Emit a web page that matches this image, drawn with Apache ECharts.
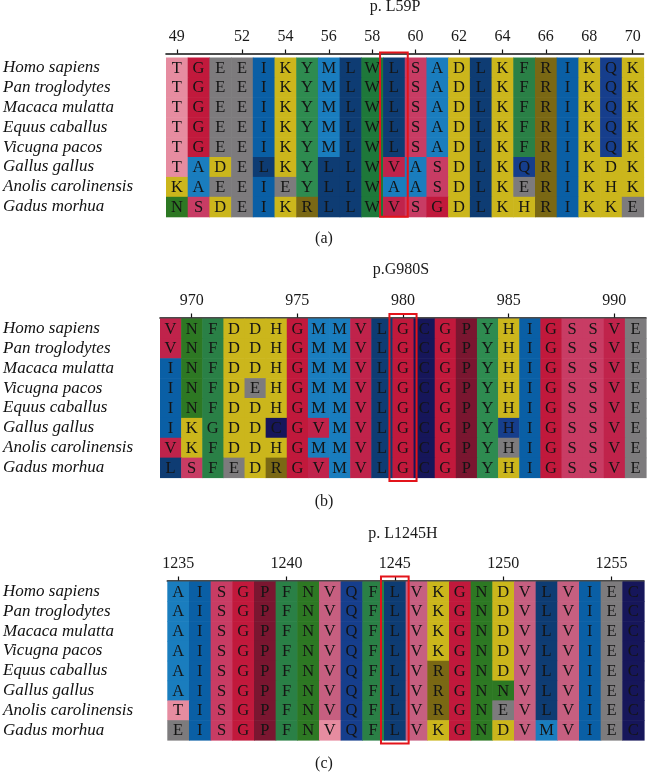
<!DOCTYPE html>
<html>
<head>
<meta charset="utf-8">
<script src="https://cdn.jsdelivr.net/npm/echarts@6/dist/echarts.min.js"></script>
<style>html,body{margin:0;padding:0;background:#fff}#chart{width:648px;height:773px}</style>
</head>
<body>
<div id="chart"></div>
<script>
// ---------- DATA ----------
const speciesA = ['Homo sapiens','Pan troglodytes','Macaca mulatta','Equus caballus','Vicugna pacos','Gallus gallus','Anolis carolinensis','Gadus morhua'];
const speciesB = ['Homo sapiens','Pan troglodytes','Macaca mulatta','Vicugna pacos','Equus caballus','Gallus gallus','Anolis carolinensis','Gadus morhua'];
const speciesC = ['Homo sapiens','Pan troglodytes','Macaca mulatta','Vicugna pacos','Equus caballus','Gallus gallus','Anolis carolinensis','Gadus morhua'];

const positionsA = [49,50,51,52,53,54,55,56,57,58,59,60,61,62,63,64,65,66,67,68,69,70];
const positionsB = [969,970,971,972,973,974,975,976,977,978,979,980,981,982,983,984,985,986,987,988,989,990,991];
const positionsC = [1235,1236,1237,1238,1239,1240,1241,1242,1243,1244,1245,1246,1247,1248,1249,1250,1251,1252,1253,1254,1255,1256];

const ticksA = [49,52,54,56,58,60,62,64,66,68,70];
const ticksB = [970,975,980,985,990];
const ticksC = [1235,1240,1245,1250,1255];

const seqA = [
  'TGEEIKYMLWLSADLKFRIKQK',
  'TGEEIKYMLWLSADLKFRIKQK',
  'TGEEIKYMLWLSADLKFRIKQK',
  'TGEEIKYMLWLSADLKFRIKQK',
  'TGEEIKYMLWLSADLKFRIKQK',
  'TADELKYLLWVASDLKQRIKDK',
  'KAEEIEYLLWAASDLKERIKHK',
  'NSDEIKRLLWVSGDLKHRIKKE'
];
const seqB = [
  'VNFDDHGMMVLGCGPYHIGSSVE',
  'VNFDDHGMMVLGCGPYHIGSSVE',
  'INFDDHGMMVLGCGPYHIGSSVE',
  'INFDEHGMMVLGCGPYHIGSSVE',
  'INFDDHGMMVLGCGPYHIGSSVE',
  'IKGDDCGVMVLGCGPYHIGSSVE',
  'VKFDDHGMMVLGCGPYHIGSSVE',
  'LSFEDRGVMVLGCGPYHIGSSVE'
];
const seqC = [
  'AISGPFNVQFLVKGNDVLVIEC',
  'AISGPFNVQFLVKGNDVLVIEC',
  'AISGPFNVQFLVKGNDVLVIEC',
  'AISGPFNVQFLVKGNDVLVIEC',
  'AISGPFNVQFLVRGNDVLVIEC',
  'AISGPFNVQFLVRGNNVLVIEC',
  'TISGPFNVQFLVRGNEVLVIEC',
  'EISGPFNVQFLVKGNDVMVIEC'
];

const mutationA = 59;
const mutationB = 980;
const mutationC = 1245;

const titles = ['p. L59P', 'p.G980S', 'p. L1245H'];
const captions = ['(a)', '(b)', '(c)'];

// ---------- STYLES ----------
const letterColors = {
  T:'#E68CA0', G:'#C1193C', E:'#7D7B7D', I:'#0A5FA5', K:'#CBB61C', D:'#CBB61C', H:'#CBB61C',
  Y:'#2E8B50', M:'#1A7DBE', A:'#1A7DBE', L:'#0E3C73', W:'#1E783A', S:'#C83C64', F:'#2A8046',
  R:'#7A6814', Q:'#163E8C', N:'#2D7823', V:'#C0234B', C:'#16165A', P:'#7A1630'
};
const panelLetterColors = [{}, {}, { V:'#C65F80' }];
// per-cell colour exceptions: panel, row, column position -> colour
const cellColors = {
  '1:5:971':'#2A8046', '1:5:985':'#163E8C', '1:6:985':'#7D7B7D',
  '2:7:1242':'#E68CA0'
};

const panels = [
  { species: speciesA, positions: positionsA, ticks: ticksA, seq: seqA, mut: mutationA,
    grid: {left:166, top:57.5, width:477.5, height:159.2}, axisOffset:4, boxTop:5, boxBottom:0 },
  { species: speciesB, positions: positionsB, ticks: ticksB, seq: seqB, mut: mutationB,
    grid: {left:160, top:318.5, width:486, height:159}, axisOffset:1, boxTop:4.5, boxBottom:3.5 },
  { species: speciesC, positions: positionsC, ticks: ticksC, seq: seqC, mut: mutationC,
    grid: {left:167.3, top:581.5, width:476.7, height:158.5}, axisOffset:1, boxTop:5, boxBottom:3.5 }
];
const titleTops = [-1, 262, 526];
const titleCenters = [395, 401, 403];
const captionTops = [231, 494, 756];

const SERIF = '"Liberation Serif", "DejaVu Serif", serif';

const chart = echarts.init(document.getElementById('chart'), null, {renderer:'canvas'});

const series = [];
panels.forEach((p, pi) => {
  const data = [];
  p.seq.forEach((row, ri) => {
    row.split('').forEach((ch, ci) => {
      const key = pi + ':' + ri + ':' + p.positions[ci];
      const color = cellColors[key] || panelLetterColors[pi][ch] || letterColors[ch] || '#ccc';
      data.push({ value: [ci, ri, ch, color] });
    });
  });
  series.push({
    type: 'custom', xAxisIndex: pi, yAxisIndex: pi, data: data, z: 2,
    renderItem: function (params, api) {
      const c = api.coord([api.value(0), api.value(1)]);
      const s = api.size([1, 1]);
      const d = data[params.dataIndex].value;
      return {
        type: 'group',
        children: [
          { type: 'rect', shape: { x: c[0] - s[0] / 2, y: c[1] - s[1] / 2, width: s[0] + 0.6, height: s[1] + 0.6 },
            style: { fill: d[3] } },
          { type: 'text', z2: 10, style: { text: d[2], x: c[0], y: c[1] + 0.8, align: 'center', verticalAlign: 'middle',
            fontFamily: SERIF, fontSize: 16.5, fill: '#141414' } }
        ]
      };
    }
  });
  const mi = p.positions.indexOf(p.mut);
  series.push({
    type: 'custom', xAxisIndex: pi, yAxisIndex: pi, data: [[mi]], z: 5,
    renderItem: function (params, api) {
      const top = api.coord([mi, 0]);
      const bot = api.coord([mi, p.species.length - 1]);
      const s = api.size([1, 1]);
      const x0 = top[0] - s[0] / 2 - 3;
      const y0 = top[1] - s[1] / 2 - p.boxTop;
      const y1 = bot[1] + s[1] / 2 + p.boxBottom;
      return { type: 'rect', shape: { x: x0, y: y0, width: s[0] + 6, height: y1 - y0 },
        style: { fill: 'none', stroke: '#E3141B', lineWidth: 2 } };
    }
  });
});

const option = {
  animation: false,
  backgroundColor: '#ffffff',
  title: titles.map((t, i) => ({
    text: t, left: titleCenters[i], top: titleTops[i], textAlign: 'center', padding: 0,
    textStyle: { fontFamily: SERIF, fontSize: 16, fontWeight: 'normal', color: '#1a1a1a' }
  })).concat(captions.map((t, i) => ({
    text: t, left: 324, top: captionTops[i], textAlign: 'center', padding: 0,
    textStyle: { fontFamily: SERIF, fontSize: 16, fontWeight: 'normal', color: '#1a1a1a' }
  }))),
  grid: panels.map(p => Object.assign({ containLabel: false }, p.grid)),
  xAxis: panels.map((p, i) => ({
    gridIndex: i, type: 'category', position: 'top', offset: p.axisOffset,
    data: p.positions.map(String),
    axisLine: { show: true, lineStyle: { color: '#111', width: 1.6 } },
    axisTick: { show: true, alignWithLabel: true, length: 4, inside: false,
      interval: (idx, val) => p.ticks.indexOf(+val) >= 0, lineStyle: { color: '#111', width: 1.2 } },
    axisLabel: { interval: (idx, val) => p.ticks.indexOf(+val) >= 0, margin: 9,
      fontFamily: SERIF, fontSize: 16, color: '#1a1a1a' },
    splitLine: { show: false }
  })),
  yAxis: panels.map((p, i) => ({
    gridIndex: i, type: 'category', inverse: true, data: p.species,
    axisLine: { show: false }, axisTick: { show: false }, splitLine: { show: false },
    axisLabel: { interval: 0, align: 'left', margin: p.grid.left - 3, fontFamily: SERIF, fontStyle: 'italic',
      fontSize: 17, color: '#111' }
  })),
  series: series
};
chart.setOption(option);
</script>
</body>
</html>
